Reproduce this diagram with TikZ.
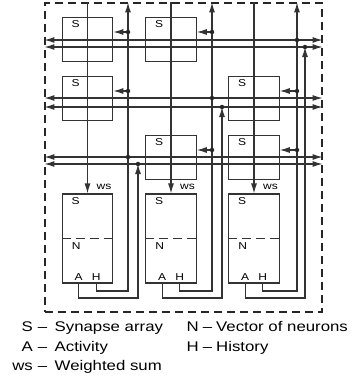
\documentclass[tikz,border=0pt]{standalone}
\usepackage{fontspec}
\setmainfont{Liberation Sans}[FakeStretch=1.2]
\usetikzlibrary{arrows.meta}
\begin{document}
\begin{tikzpicture}[x=1pt,y=-1pt,
  wire/.style={draw=black!80, line width=1.1pt},
  arr/.style={-{Latex[length=10pt,width=6pt]}},
  biarr/.style={{Latex[length=10pt,width=6pt]}-{Latex[length=10pt,width=6pt]}},
  jdot/.style={circle, fill=black!85, inner sep=0pt, minimum size=4.5pt},
  sbox/.style={draw=black!80, line width=1.1pt, minimum width=50.5pt, minimum height=44.5pt, inner sep=0pt},
  nbox/.style={draw=black!80, line width=1.1pt, minimum width=50.5pt, minimum height=89pt, inner sep=0pt},
  lab/.style={inner sep=0pt, font=\fontsize{10}{12}\selectfont},
  leg/.style={inner sep=0pt, font=\fontsize{14}{16}\selectfont},
  frm/.style={draw=black!85, line width=1.1pt, dash pattern=on 8pt off 5pt, minimum width=277pt, minimum height=309pt, inner sep=0pt},
  divider/.style={draw=black!80, line width=1.1pt, dash pattern=on 9pt off 5pt}]
\useasboundingbox (0,0) rectangle (354,381);

% outer frame
\node[frm] (frame) at (183.5,157.5) {};

% synapse arrays
\node[sbox] (s11) at (87.5,39.5) {};
\node[sbox] (s12) at (171,39.5) {};
\node[sbox] (s21) at (87.5,98.5) {};
\node[sbox] (s23) at (254,98.5) {};
\node[sbox] (s32) at (171,157.5) {};
\node[sbox] (s33) at (254,157.5) {};
\foreach \b in {s11,s12,s21,s23,s32,s33}
  \node[lab, anchor=base] (l\b) at ([shift={(14,11)}]\b.north west) {S};

% neuron boxes
\foreach \c/\x in {1/87.5,2/171,3/254} {
  \node[nbox] (n\c) at (\x,238.5) {};
  \draw[divider] (n\c.west) -- (n\c.east);
  \node[lab, anchor=base] (ls\c) at ([shift={(14,11.5)}]n\c.north west) {S};
  \node[lab, anchor=base] (ln\c) at ([shift={(14.5,10.5)}]n\c.west) {N};
  \node[lab, anchor=base] (la\c) at ([shift={(17,-3)}]n\c.south west) {A};
  \node[lab, anchor=base] (lh\c) at ([shift={(34.5,-3)}]n\c.south west) {H};
  \node[lab, anchor=base west] (lw\c) at ([shift={(9,-4)}]n\c.north) {ws};
}

% row reference coordinates
\coordinate (U1) at (0,40);  \coordinate (D1) at (0,47);  \coordinate (Y1) at (0,32);
\coordinate (U2) at (0,98);  \coordinate (D2) at (0,107); \coordinate (Y2) at (0,91);
\coordinate (U3) at (0,157); \coordinate (D3) at (0,164); \coordinate (Y3) at (0,150);
% output routing corners
\coordinate (hr1) at (128,291); \coordinate (hr2) at (212,291); \coordinate (hr3) at (297,291);
\coordinate (ar1) at (138,298); \coordinate (ar2) at (222,298); \coordinate (ar3) at (305,298);

% buses
\foreach \r in {1,2,3} {
  \draw[wire, biarr] (frame.west |- U\r) -- (frame.east |- U\r);
  \draw[wire, biarr] (frame.west |- D\r) -- (frame.east |- D\r);
}

% weighted-sum lines
\foreach \c in {1,2,3}
  \draw[wire, arr] (n\c.north |- frame.north) -- (n\c.north);

% history and activity outputs
\foreach \c/\r in {1/3,2/2,3/1} {
  \draw[wire, arr] ([xshift=34.5pt]n\c.south west) |- (hr\c) -- (hr\c |- frame.north);
  \draw[wire, arr] ([xshift=17pt]n\c.south west) |- (ar\c) -- (ar\c |- D\r);
}

% history into synapse arrays
\foreach \r/\c in {1/1,1/2,2/1,2/3,3/2,3/3}
  \draw[wire, arr] (hr\c |- Y\r) -- (s\r\c.east |- Y\r);

% junction dots
\foreach \r/\c in {1/1,1/2,2/1,2/3,3/2,3/3}
  \node[jdot] (dy\r\c) at (hr\c |- Y\r) {};
\foreach \c/\r in {1/3,2/2,3/1} {
  \node[jdot] (du\c) at (hr\c |- U\r) {};
  \node[jdot] (dd\c) at (ar\c |- D\r) {};
}

% legend
\node[leg, anchor=base east] (kS) at (33,331) {S};
\node[leg, anchor=base] (kSd) at (42.5,331) {–};
\node[leg, anchor=base west] (kSt) at (54.5,331) {Synapse array};
\node[leg, anchor=base east] (kA) at (33,351) {A};
\node[leg, anchor=base] (kAd) at (42.5,351) {–};
\node[leg, anchor=base west] (kAt) at (54.5,351) {Activity};
\node[leg, anchor=base east] (kW) at (33,370) {ws};
\node[leg, anchor=base] (kWd) at (42.5,370) {–};
\node[leg, anchor=base west] (kWt) at (54.5,370) {Weighted sum};
\node[leg, anchor=base east] (kN) at (199,331) {N};
\node[leg, anchor=base] (kNd) at (207.5,331) {–};
\node[leg, anchor=base west] (kNt) at (216,331) {Vector of neurons};
\node[leg, anchor=base east] (kH) at (199,351) {H};
\node[leg, anchor=base] (kHd) at (207.5,351) {–};
\node[leg, anchor=base west] (kHt) at (216,351) {History};
\end{tikzpicture}
\end{document}
